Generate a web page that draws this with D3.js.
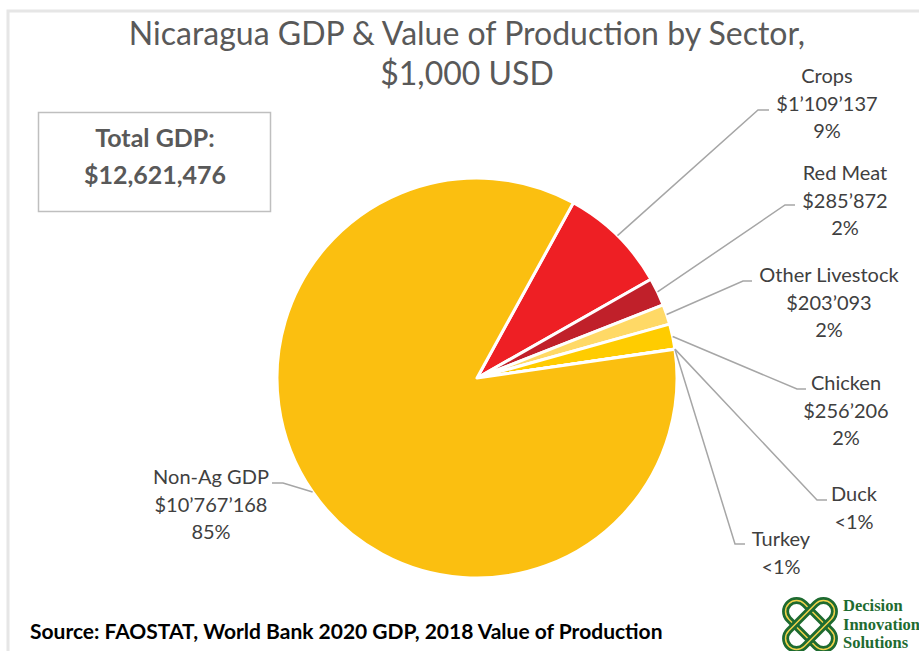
<!DOCTYPE html>
<html>
<head>
<meta charset="utf-8">
<script src="https://cdn.jsdelivr.net/npm/d3@7"></script>
<style>
  body { margin: 0; background: #fff; }
  svg { display: block; font-family: Lato, "Open Sans", sans-serif; }
</style>
</head>
<body>
<div id="chart"></div>
<script>
// data
const sectors = ["Crops", "Red Meat", "Other Livestock", "Chicken", "Duck", "Turkey", "Non-Ag GDP"];
const values = [1109137, 285872, 203093, 256206, 1500, 800, 10767168];
const valueLabels = ["$1\u2019109\u2019137", "$285\u2019872", "$203\u2019093", "$256\u2019206", null, null, "$10\u2019767\u2019168"];
const pctLabels = ["9%", "2%", "2%", "2%", "<1%", "<1%", "85%"];
const colors = ["#ee1f24", "#c0202a", "#ffd966", "#ffcc00", "#ffc000", "#ffc000", "#fbbf10"];
const totalGdp = "$12,621,476";

let width = 919, height = 651;
let svg = d3.select("#chart").append("svg")
    .attr("width", width)
    .attr("height", height);

// light frame
svg.append("path")
    .attr("d", "M8," + height + "V11H" + width)
    .attr("fill", "none")
    .attr("stroke", "#e6e6e6")
    .attr("stroke-width", 3);

// title
let title = svg.append("text")
    .attr("text-anchor", "middle")
    .attr("fill", "#595959")
    .style("font-size", "32px")
    .style("font-weight", 400);
title.append("tspan").attr("x", 467).attr("y", 45).text("Nicaragua GDP & Value of Production by Sector,");
title.append("tspan").attr("x", 467).attr("y", 85).text("$1,000 USD");

// total box
svg.append("rect")
    .attr("x", 38.5).attr("y", 112.5)
    .attr("width", 232).attr("height", 99)
    .attr("fill", "#fff")
    .attr("stroke", "#bfbfbf")
    .attr("stroke-width", 1.5);
let tot = svg.append("text")
    .attr("text-anchor", "middle")
    .attr("fill", "#595959")
    .style("font-size", "25px")
    .style("font-weight", 700);
tot.append("tspan").attr("x", 155).attr("y", 147).text("Total GDP:");
tot.append("tspan").attr("x", 155).attr("y", 184).text(totalGdp);

// pie
let cx = 477, cy = 378, r = 200;
let startDeg = 28.8;
let pie = d3.pie().sort(null).value(d => d)
    .startAngle(startDeg * Math.PI / 180)
    .endAngle(startDeg * Math.PI / 180 + 2 * Math.PI);
let arcs = pie(values);
let arc = d3.arc().innerRadius(0).outerRadius(r);

let g = svg.append("g").attr("transform", "translate(" + cx + "," + cy + ")");
g.selectAll("path")
    .data(arcs)
    .enter()
    .append("path")
    .attr("d", arc)
    .attr("fill", (d, i) => colors[i])
    .attr("stroke", "#fff")
    .attr("stroke-width", 3)
    .attr("stroke-linejoin", "round");

// label placement (text anchor point, elbow)
let labelPos = [
    { x: 827, y: 83, ex: 758, ey: 110, hx: 769 },
    { x: 845, y: 180, ex: 785, ey: 205, hx: 795 },
    { x: 829, y: 282, ex: 743, ey: 281, hx: 752 },
    { x: 846, y: 390, ex: 797, ey: 389, hx: 806 },
    { x: 854, y: 501, ex: 817, ey: 500, hx: 827 },
    { x: 781, y: 546, ex: 735, ey: 544, hx: 745 },
    { x: 211, y: 484, ex: 283, ey: 483, hx: 272 }
];

arcs.forEach(function (d, i) {
    let mid = (d.startAngle + d.endAngle) / 2;
    let px = cx + r * Math.sin(mid), py = cy - r * Math.cos(mid);
    let p = labelPos[i];
    svg.append("polyline")
        .attr("points", [[px, py], [p.ex, p.ey], [p.hx, p.ey]].map(q => q.join(",")).join(" "))
        .attr("fill", "none")
        .attr("stroke", "#a6a6a6")
        .attr("stroke-width", 1.5);

    let lines = [sectors[i]];
    if (valueLabels[i]) lines.push(valueLabels[i]);
    lines.push(pctLabels[i]);
    let t = svg.append("text")
        .attr("text-anchor", "middle")
        .attr("fill", "#404040")
        .style("font-size", "20px");
    lines.forEach(function (s, j) {
        t.append("tspan").attr("x", p.x).attr("y", p.y + j * 27.5).text(s);
    });
});

// source
svg.append("text")
    .attr("x", 30).attr("y", 639)
    .attr("fill", "#000")
    .style("font-size", "21px")
    .style("font-weight", 700)
    .text("Source: FAOSTAT, World Bank 2020 GDP, 2018 Value of Production");

// logo: two crossed loops
let logo = svg.append("g").attr("transform", "translate(810,625)");
[45, -45].forEach(function (a) {
    logo.append("rect")
        .attr("x", -30).attr("y", -11)
        .attr("width", 60).attr("height", 22)
        .attr("rx", 11)
        .attr("transform", "rotate(" + a + ")")
        .attr("fill", "none")
        .attr("stroke", "#1e6b30")
        .attr("stroke-width", 7);
    logo.append("rect")
        .attr("x", -30).attr("y", -11)
        .attr("width", 60).attr("height", 22)
        .attr("rx", 11)
        .attr("transform", "rotate(" + a + ")")
        .attr("fill", "none")
        .attr("stroke", "#f2d24b")
        .attr("stroke-width", 1.5);
});
let lt = svg.append("text")
    .attr("fill", "#1e6b30")
    .style("font-family", "'Liberation Serif', serif")
    .style("font-weight", 700)
    .style("font-size", "16.5px");
["Decision", "Innovation", "Solutions"].forEach(function (s, j) {
    lt.append("tspan").attr("x", 843).attr("y", 611 + j * 18.5).text(s);
});
</script>
</body>
</html>
